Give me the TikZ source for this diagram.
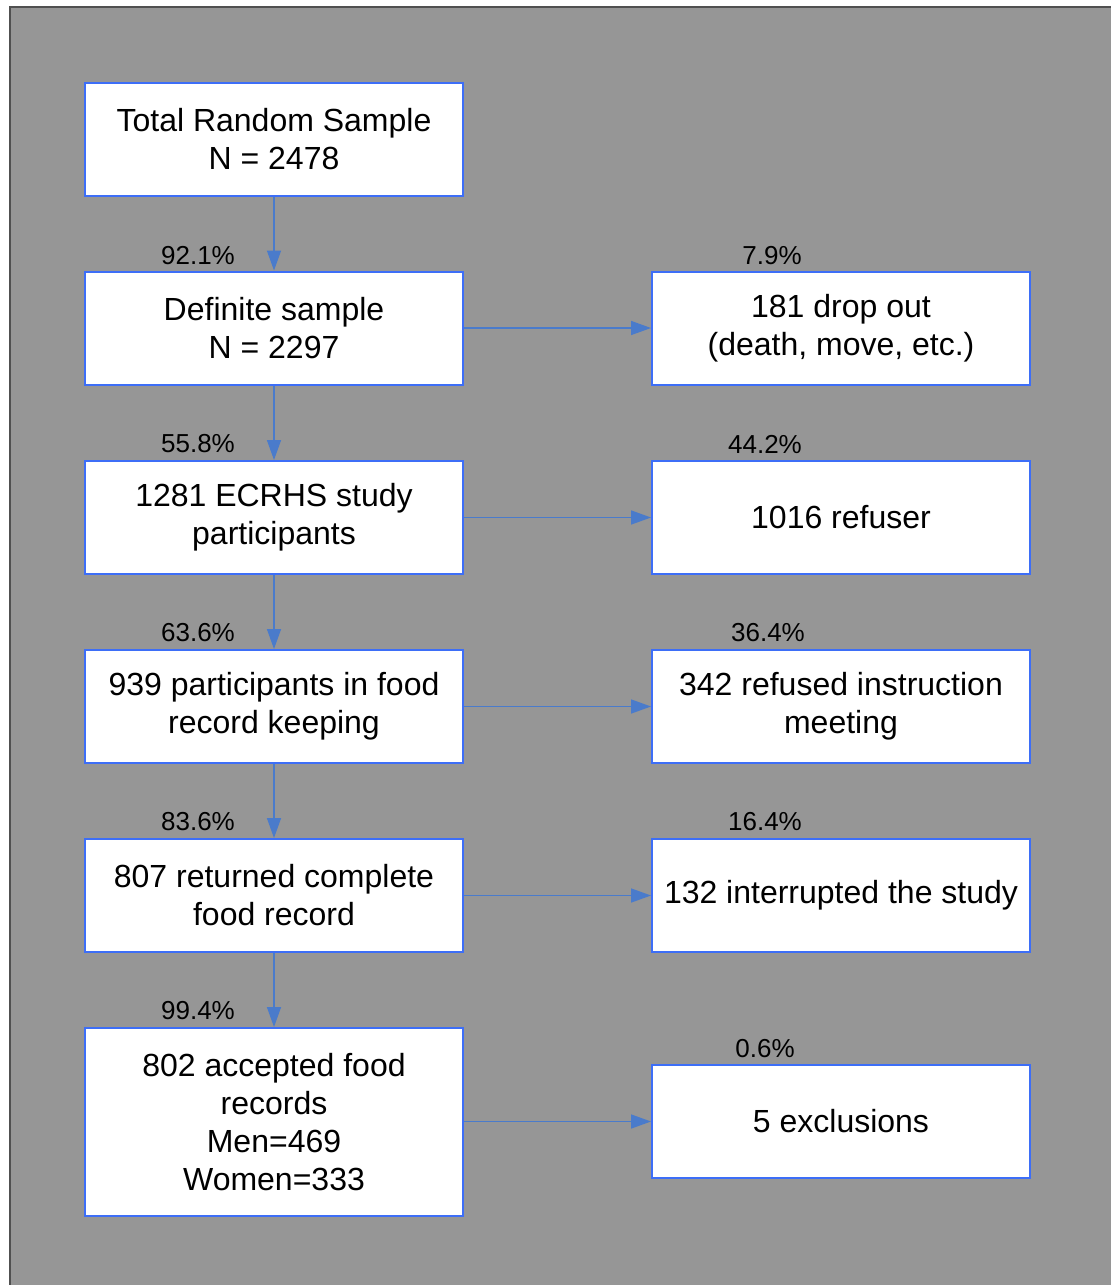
\documentclass[tikz,border=0pt]{standalone}
\usepackage{fontspec}
\setmainfont{Liberation Sans}
\usetikzlibrary{arrows.meta}
\definecolor{bggray}{HTML}{969696}
\definecolor{frame}{HTML}{505050}
\definecolor{boxblue}{HTML}{3D6EF7}
\definecolor{arrblue}{HTML}{4A7BCB}
\tikzset{
  box/.style={draw=boxblue, line width=2pt, fill=white, minimum width=378pt, minimum height=113pt, inner sep=0pt, align=center, font=\fontsize{32}{38}\selectfont},
  pct/.style={inner sep=0pt, font=\fontsize{26}{30}\selectfont},
  arr/.style={draw=arrblue, line width=1.5pt, -{Triangle[length=20pt,width=14pt]}}
}
\begin{document}
\begin{tikzpicture}[x=1pt,y=-1pt]
\useasboundingbox (0,0) rectangle (1111,1285);
\fill[bggray] (10,7) rectangle (1111,1285);
\draw[frame, line width=1.5pt] (10,1285) -- (10,7) -- (1111,7);

\node[box] (a1) at (274,139.5) {Total Random Sample\\N = 2478};
\node[box] (a2) at (274,328) {Definite sample\\N = 2297};
\node[box] (a3) at (274,517.5) {1281 ECRHS study\\participants};
\node[box] (a4) at (274,706.5) {939 participants in food\\record keeping};
\node[box] (a5) at (274,895.5) {807 returned complete\\food record};
\node[box, minimum height=188pt] (a6) at (274,1122) {802 accepted food\\records\\Men=469\\Women=333};

\node[box] (b2) at (841,328) {181 drop out\\(death, move, etc.)};
\node[box] (b3) at (841,517.5) {1016 refuser};
\node[box] (b4) at (841,706.5) {342 refused instruction\\meeting};
\node[box] (b5) at (841,895.5) {132 interrupted the study};
\node[box] (b6) at (841,1121.5) {5 exclusions};

\draw[arr] (a1.south) -- (a2.north);
\draw[arr] (a2.south) -- (a3.north);
\draw[arr] (a3.south) -- (a4.north);
\draw[arr] (a4.south) -- (a5.north);
\draw[arr] (a5.south) -- (a6.north);

\draw[arr] (a2.east) -- (b2.west);
\draw[arr] (a3.east) -- (b3.west);
\draw[arr] (a4.east) -- (b4.west);
\draw[arr] (a5.east) -- (b5.west);
\draw[arr] (a6.east |- b6.west) -- (b6.west);

\node[pct] (p2) at (198,256) {92.1\%};
\node[pct] (p3) at (198,444) {55.8\%};
\node[pct] (p4) at (198,633) {63.6\%};
\node[pct] (p5) at (198,822) {83.6\%};
\node[pct] (p6) at (198,1011) {99.4\%};

\node[pct] (q2) at (772,256) {7.9\%};
\node[pct] (q3) at (765,444) {44.2\%};
\node[pct] (q4) at (768,633) {36.4\%};
\node[pct] (q5) at (765,822) {16.4\%};
\node[pct] (q6) at (765,1049) {0.6\%};
\end{tikzpicture}
\end{document}
